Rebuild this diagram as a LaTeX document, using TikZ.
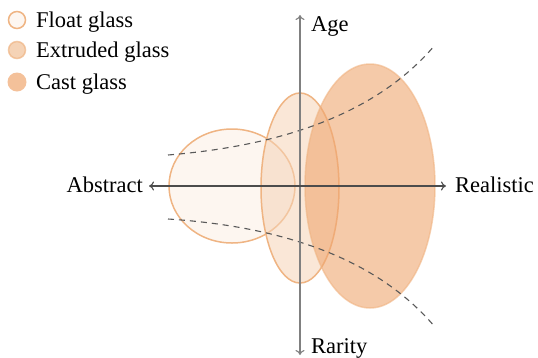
\documentclass[tikz,border=0pt]{standalone}
\usepackage{fontspec}
\setmainfont{Liberation Serif}
\usetikzlibrary{arrows.meta}
\definecolor{edge}{HTML}{EFB483}
\definecolor{floatfill}{HTML}{FDF6F0}
\definecolor{extfill}{HTML}{F5D3B6}
\definecolor{castfill}{HTML}{EFA66F}
\definecolor{axis}{HTML}{808080}
\tikzset{
  lbl/.style={font=\fontsize{22.5}{26}\selectfont, inner sep=0pt},
  axisline/.style={draw=axis, line width=1.1pt, -{To[length=5pt,width=9pt]}},
  curve/.style={draw=black!65, line width=1.1pt, dash pattern=on 6pt off 5pt},
  glassline/.style={draw=edge, line width=1.5pt},
}
\begin{document}
\begin{tikzpicture}[x=1pt,y=-1pt]
\useasboundingbox (0,0) rectangle (538,357);
% shapes
\path[glassline, fill=floatfill] (232,186) ellipse [x radius=63, y radius=57];
\path[glassline, fill=extfill, fill opacity=0.55] (300,188) ellipse [x radius=39, y radius=95];
\path[glassline, fill=castfill, fill opacity=0.6, draw opacity=0.6] (370,186) ellipse [x radius=65, y radius=122];
% dashed curves
\draw[curve] (168,155) .. controls (290,145) and (380,110) .. (435,45);
\draw[curve] (168,219) .. controls (290,227) and (380,262) .. (435,327);
% axes
\coordinate (c) at (300,186);
\coordinate (top) at (300,15);
\coordinate (bot) at (300,355);
\coordinate (lft) at (149,186);
\coordinate (rgt) at (446,186);
\draw[axisline] (c) -- (top);
\draw[axisline] (c) -- (bot);
\draw[axisline, draw=black!70] (c) -- (lft);
\draw[axisline, draw=black!70] (c) -- (rgt);
\node[lbl, anchor=base west] (age) at (311,31) {Age};
\node[lbl, anchor=base west] (rar) at (311,353) {Rarity};
\node[lbl, anchor=base east] (abs) at (143,192) {Abstract};
\node[lbl, anchor=base west] (rea) at (455,192) {Realistic};
% legend
\path[glassline, fill=floatfill] (17,20) circle (8.5);
\path[glassline, fill=extfill, draw opacity=0.7] (17,50) circle (8.5);
\path[fill=castfill, fill opacity=0.7] (17,82) circle (9.5);
\node[lbl, anchor=base west] (l1) at (36,27) {Float glass};
\node[lbl, anchor=base west] (l2) at (36,57) {Extruded glass};
\node[lbl, anchor=base west] (l3) at (36,89) {Cast glass};
\end{tikzpicture}
\end{document}
